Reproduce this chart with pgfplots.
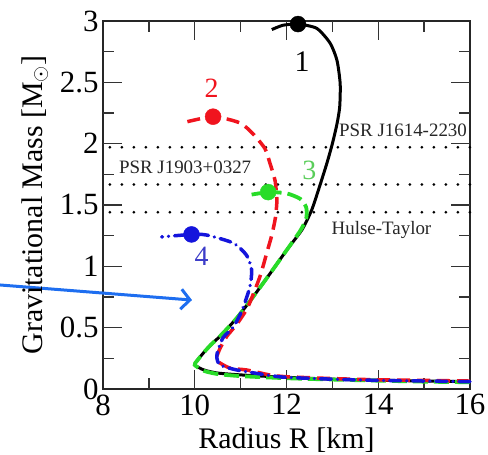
\documentclass[border=0pt]{standalone}
\usepackage{fontspec}
\setmainfont{Liberation Serif}
\usepackage{pgfplots}
\pgfplotsset{compat=1.18}
\usetikzlibrary{arrows.meta}

\definecolor{cRed}{RGB}{240,20,30}
\definecolor{cGreen}{RGB}{40,220,40}
\definecolor{cBlue}{RGB}{20,20,220}
\definecolor{cArrow}{RGB}{30,110,240}
\definecolor{lGreen}{RGB}{90,205,90}
\definecolor{lBlue}{RGB}{60,60,200}

\begin{document}
\begin{tikzpicture}[tk/.style={black!80, line width=1.4bp}]
\begin{axis}[
    width=367bp, height=368bp, scale only axis,
    xmin=8, xmax=16, ymin=0, ymax=3,
    xtick={8,10,12,14,16}, ytick={0,0.5,1,1.5,2,2.5,3},
    major tick length=0pt,
    axis line style={line width=1.6bp, black!85},
    ticklabel style={font=\fontsize{31}{34}\selectfont},
    /pgf/number format/assume math mode=true,
    label style={font=\fontsize{30}{34}\selectfont},
    xlabel={Radius R [km]},
    ylabel={Gravitational Mass [M$_\odot$]},
    xlabel style={at={(axis description cs:0.5,-0.139)}, anchor=center},
    ylabel style={at={(axis description cs:-0.185,0.5)}, anchor=center},
    xticklabel style={yshift=-2bp},
    yticklabel style={xshift=-1bp},
    clip=false,
]
% tick marks on all four sides (inside): 19 px major, 11 px minor
\pgfplotsinvokeforeach{10,12,14}{
  \draw[tk] (axis cs:#1,0) -- (axis cs:#1,0.155);
  \draw[tk] (axis cs:#1,3) -- (axis cs:#1,2.845);
}
\pgfplotsinvokeforeach{9,11,13,15}{
  \draw[tk] (axis cs:#1,0) -- (axis cs:#1,0.09);
  \draw[tk] (axis cs:#1,3) -- (axis cs:#1,2.91);
}
\pgfplotsinvokeforeach{0.5,1,1.5,2,2.5}{
  \draw[tk] (axis cs:8,#1) -- (axis cs:8.414,#1);
  \draw[tk] (axis cs:16,#1) -- (axis cs:15.586,#1);
}
\pgfplotsinvokeforeach{0.25,0.75,1.25,1.75,2.25,2.75}{
  \draw[tk] (axis cs:8,#1) -- (axis cs:8.24,#1);
  \draw[tk] (axis cs:16,#1) -- (axis cs:15.76,#1);
}

% observed pulsar masses
\addplot[black, line width=3bp, line cap=round, dash pattern=on 0pt off 12bp] coordinates {(8.15,1.97) (16,1.97)};
\addplot[black, line width=3bp, line cap=round, dash pattern=on 0pt off 12bp] coordinates {(8.15,1.667) (16,1.667)};
\addplot[black, line width=3bp, line cap=round, dash pattern=on 0pt off 12bp] coordinates {(8.15,1.441) (16,1.441)};

% curve 1
\addplot[black, line width=3bp, smooth, tension=0.4] coordinates {
(16,0.06) (15,0.065) (14,0.072) (13,0.08) (12,0.095) (11,0.115) (10.5,0.13)
(10.2,0.155) (10.0,0.196) (10.05,0.23) (10.18,0.29) (10.35,0.36) (10.55,0.43)
(10.92,0.58) (11.27,0.75) (11.64,0.94) (12.0,1.13) (12.34,1.30) (12.55,1.46)
(12.72,1.65) (12.88,1.84) (13.0,2.0) (13.1,2.16) (13.16,2.3) (13.17,2.49)
(13.1,2.68) (12.95,2.82) (12.66,2.94) (12.25,2.975) (11.92,2.965) (11.68,2.93)
};
% curve 3
\addplot[cGreen, line width=3.8bp, smooth, tension=0.4, dash pattern=on 15bp off 6bp] coordinates {
(16,0.055) (15,0.06) (14,0.068) (13,0.077) (12,0.088) (11,0.105) (10.5,0.122)
(10.2,0.148) (10.0,0.196) (10.05,0.23) (10.18,0.29) (10.35,0.36) (10.55,0.43)
(10.92,0.58) (11.27,0.75) (11.64,0.94) (12.0,1.13) (12.3,1.29) (12.43,1.39)
(12.43,1.48) (12.3,1.55) (12.0,1.595) (11.62,1.605) (11.24,1.585)
};
% curve 2
\addplot[cRed, line width=3.5bp, smooth, tension=0.4, dash pattern=on 13bp off 7bp] coordinates {
(16,0.065) (15,0.07) (14,0.075) (13,0.085) (12,0.10) (11.64,0.114) (11.13,0.155)
(10.77,0.17) (10.52,0.22) (10.48,0.26) (10.55,0.33) (10.70,0.43) (10.92,0.53)
(11.16,0.67) (11.42,0.915) (11.57,1.11) (11.68,1.255) (11.76,1.4) (11.79,1.54)
(11.75,1.70) (11.64,1.84) (11.53,1.96) (11.27,2.08) (10.98,2.17) (10.40,2.22) (9.74,2.17)
};
% curve 4
\addplot[cBlue, line width=3.5bp, smooth, tension=0.4, line cap=round, dash pattern=on 11bp off 6bp on 0.1bp off 6bp] coordinates {
(16,0.06) (15,0.065) (14,0.07) (13,0.08) (12,0.095) (11.64,0.11) (10.92,0.155)
(10.55,0.196) (10.48,0.26) (10.51,0.32) (10.62,0.42) (10.84,0.505) (11.03,0.64)
(11.2,0.83) (11.24,0.97) (11.13,1.09) (10.84,1.19) (10.26,1.255) (9.93,1.26) (9.28,1.24)
};

% maximum-mass configurations
\addplot[only marks, mark=*, mark size=8bp, black] coordinates {(12.25,2.975)};
\addplot[only marks, mark=*, mark size=8bp, cRed, mark options={draw=cRed, fill=cRed}] coordinates {(10.40,2.22)};
\addplot[only marks, mark=*, mark size=8bp, cGreen, mark options={draw=cGreen, fill=cGreen}] coordinates {(11.60,1.605)};
\addplot[only marks, mark=*, mark size=8bp, cBlue, mark options={draw=cBlue, fill=cBlue}] coordinates {(9.93,1.26)};

% curve labels
\node[font=\fontsize{30}{34}\selectfont, black] at (axis cs:12.34,2.67) {1};
\node[font=\fontsize{28}{32}\selectfont, cRed] at (axis cs:10.37,2.45) {2};
\node[font=\fontsize{28}{32}\selectfont, lGreen] at (axis cs:12.5,1.78) {3};
\node[font=\fontsize{28}{32}\selectfont, lBlue] at (axis cs:10.15,1.08) {4};

% pulsar labels
\node[font=\fontsize{19}{22}\selectfont, black!85] at (axis cs:14.54,2.11) {PSR J1614-2230};
\node[font=\fontsize{19}{22}\selectfont, black!85] at (axis cs:9.79,1.81) {PSR J1903+0327};
\node[font=\fontsize{19}{22}\selectfont, black!85] at (axis cs:14.07,1.30) {Hulse-Taylor};

% annotation arrow
\draw[cArrow, line width=3bp, -{Straight Barb[length=9bp, width=20bp, line width=3bp]}]
  (axis cs:5.756,0.848) -- (axis cs:9.94,0.725);
\end{axis}
\pgfresetboundingbox
\path (-103bp,-66bp) rectangle (385bp,389bp);
\end{tikzpicture}
\end{document}
